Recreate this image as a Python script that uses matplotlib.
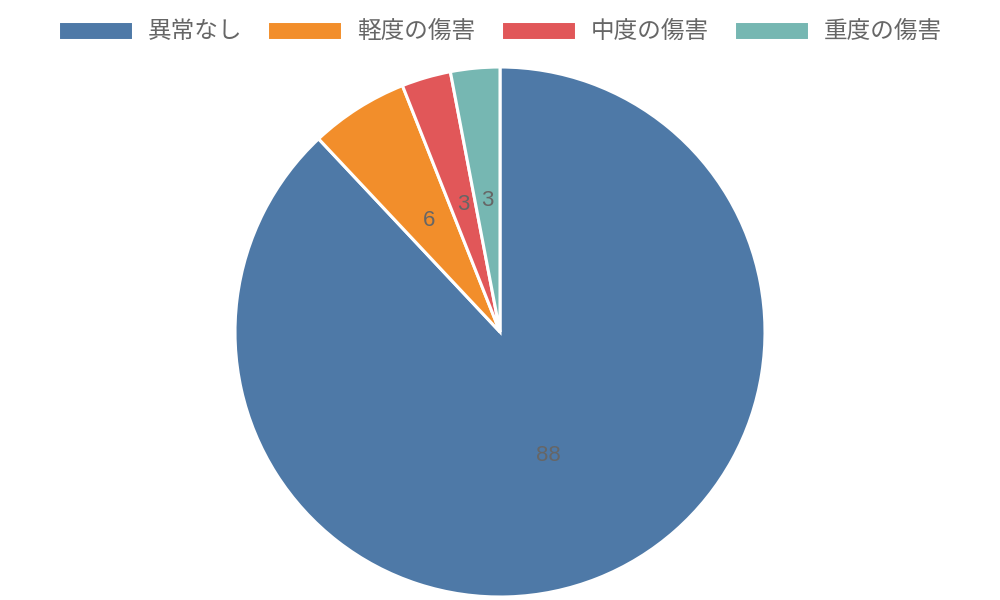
import matplotlib
matplotlib.use("Agg")
import matplotlib.pyplot as plt

plt.rcParams['font.family'] = ['Noto Sans CJK JP', 'DejaVu Sans']

# データ
labels = ['異常なし', '軽度の傷害', '中度の傷害', '重度の傷害']
values = [88, 6, 3, 3]
colors = ['#4e79a7', '#f28e2b', '#e15759', '#76b7b2']

total = sum(values)

fig = plt.figure(figsize=(10, 6), dpi=100)
ax = fig.add_axes([0.235, 0.005, 0.53, 530 / 600])

wedges, texts, autotexts = ax.pie(
    values,
    colors=colors,
    startangle=90,
    counterclock=False,
    radius=1.0,
    autopct=lambda p: '{:.0f}'.format(p * total / 100),
    pctdistance=0.5,
    wedgeprops=dict(edgecolor='white', linewidth=2.2),
    textprops=dict(color='#666666', fontsize=16, family=['Liberation Sans', 'DejaVu Sans']),
)
ax.set_xlim(-1.0, 1.0)
ax.set_ylim(-1.0, 1.0)
ax.set_aspect('equal')

fig.legend(
    wedges, labels,
    loc='center', bbox_to_anchor=(0.5, 0.947),
    ncol=4, frameon=False,
    fontsize=17, labelcolor='#666666',
    handlelength=3.18, handleheight=0.85,
    handletextpad=0.64, columnspacing=1.06,
)

fig.savefig('out.png', dpi=100)
